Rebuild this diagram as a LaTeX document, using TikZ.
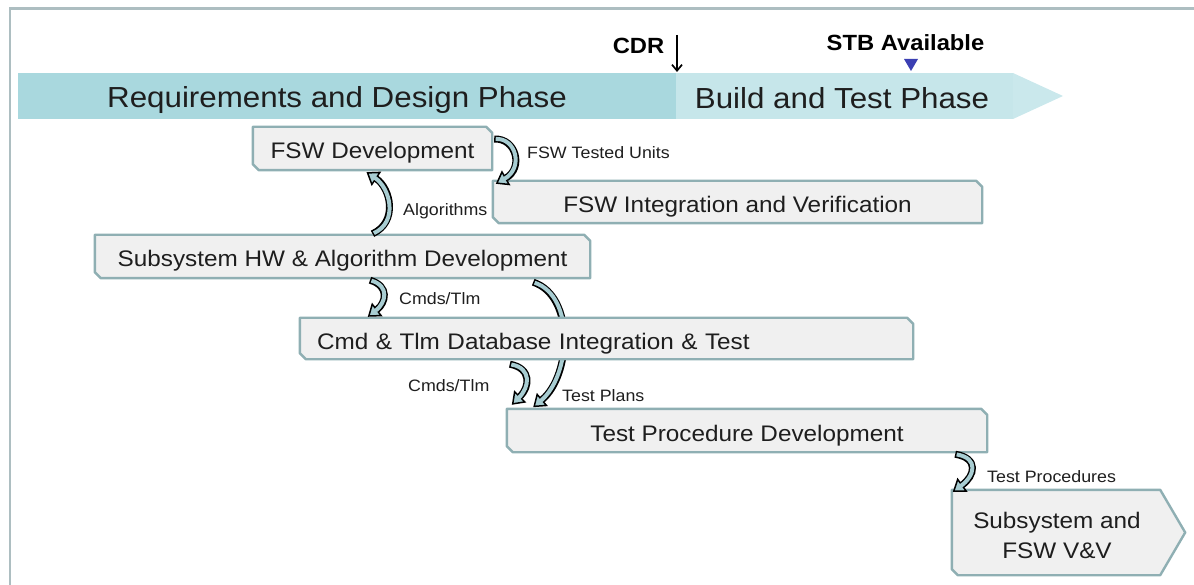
\documentclass[tikz,border=0pt]{standalone}
\usepackage{fontspec}
\setmainfont[FakeStretch=1.08]{Liberation Sans}
\usetikzlibrary{arrows.meta,calc}

\definecolor{framecol}{HTML}{ADBEC1}
\definecolor{phasedark}{HTML}{A9D8DE}
\definecolor{phaselight}{HTML}{C6E6EA}
\definecolor{boxfill}{HTML}{F0F0F0}
\definecolor{boxline}{HTML}{8FAFB3}
\definecolor{arrowfill}{HTML}{A8CDD2}
\definecolor{stbblue}{HTML}{3B3FB3}
\definecolor{ink}{HTML}{1E1E1E}

\pgfdeclarelayer{bg}
\pgfsetlayers{bg,main}

\tikzset{
  phasetext/.style={font=\fontsize{29}{34}\selectfont, text=ink, inner sep=0pt},
  milestone/.style={font=\fontsize{22}{26}\selectfont\bfseries, text=black, inner sep=0pt},
  taskbox/.style={font=\fontsize{22.5}{27}\selectfont, text=ink, inner sep=0pt,
    text height=21pt, text depth=0pt},
  flowlabel/.style={font=\fontsize{16.5}{20}\selectfont, text=ink, inner sep=0pt, anchor=west},
  boxoutline/.style={draw=boxline, fill=boxfill, line width=2.4pt, line join=round},
  bandouter/.style={draw=black, line width=7pt,
    -{Triangle[length=12pt,width=17pt,fill=arrowfill,line width=1.5pt]}},
  bandinner/.style={draw=arrowfill, line width=4pt, shorten >=10pt, shorten <=1.5pt}
}

% outline of a task box: top-right and bottom-left corners cut off
\newcommand\chambox[2]{%
  \begin{pgfonlayer}{bg}
    \draw[boxoutline] ([xshift=-#2]#1.north east) -- ([yshift=-#2]#1.north east)
      -- (#1.south east) -- ([xshift=#2]#1.south west) -- ([yshift=#2]#1.south west)
      -- (#1.north west) -- cycle;
  \end{pgfonlayer}}

% curved block arrow: black rim with a light fill
\newcommand\bandarrow[1]{%
  \draw[bandouter] #1;
  \draw[bandinner] #1;}

\begin{document}
\begin{tikzpicture}[x=1pt,y=-1pt]
\useasboundingbox (0,0) rectangle (1194,585);

% frame
\draw[framecol, line width=2.5pt] (10,590) -- (10,8.5) -- (1200,8.5);

% phase banner
\fill[phasedark] (18,73) rectangle (676,119);
\fill[phaselight] (676,73) rectangle (1013,119);
\fill[phaselight!92!white] (1013,73) -- (1063,96) -- (1013,119) -- cycle;
\node[phasetext] (reqphase) at (337,100) {Requirements and Design Phase};
\node[phasetext] (buildphase) at (842,98.5) {Build and Test Phase};

% milestones
\node[milestone] (cdr) at (638.5,45.5) {CDR};
\coordinate (cdrtop) at (677,35);
\coordinate (cdrbot) at (677,72);
\draw[line width=1.7pt, -{Straight Barb[length=6pt,width=10pt,line width=1.7pt]}] (cdrtop) -- (cdrbot);
\node[milestone] (stb) at (905.5,43) {STB Available};
\fill[stbblue] (904,59) -- (918,59) -- (911,71) -- cycle;

% task boxes
\node[taskbox, minimum width=239pt, minimum height=43pt] (fswdev) at (372.5,148.5) {FSW Development};
\chambox{fswdev}{6pt}
\node[taskbox, minimum width=489pt, minimum height=42pt] (fswint) at (737.5,202) {FSW Integration and Verification};
\chambox{fswint}{6pt}
\node[taskbox, minimum width=495pt, minimum height=43pt] (subhw) at (342.5,256.5) {Subsystem HW \& Algorithm Development};
\chambox{subhw}{6pt}

% test plans run behind the database box
\begin{pgfonlayer}{bg}
\bandarrow{($(subhw.south east)+(-57,4)$) .. controls +(42,14) and +(38,-32) .. ($(subhw.south east)+(-57,129)$)}
\end{pgfonlayer}

\node[taskbox, align=left, text width=579pt, inner xsep=17pt, minimum height=41pt] (cmdtlm) at (606.5,338.5) {Cmd \& Tlm Database Integration \& Test};
\chambox{cmdtlm}{6pt}
\node[taskbox, minimum width=480pt, minimum height=43pt] (testproc) at (747,430.5) {Test Procedure Development};
\chambox{testproc}{6pt}
\node[minimum width=208pt, minimum height=85pt, inner sep=0pt] (vv) at (1056,532.5) {};
\node[font=\fontsize{22.5}{30}\selectfont, text=ink, align=center, inner sep=0pt] (vvtext) at ($(vv.center)+(1,3)$) {Subsystem and\\FSW V\&V};
\begin{pgfonlayer}{bg}
\draw[boxoutline] (vv.north west) -- (vv.north east) -- ($(vv.east)+(25,0)$) -- (vv.south east)
  -- ([xshift=6pt]vv.south west) -- ([yshift=6pt]vv.south west) -- cycle;
\end{pgfonlayer}

% hand-offs between tasks
\bandarrow{($(fswdev.east)+(2,-9.5)$) .. controls +(22,-1) and +(28,-16) .. ($(fswint.north west)+(3,3)$)}
\bandarrow{($(subhw.north)+(30,-1)$) .. controls +(26,-12) and +(24,16) .. ($(fswdev.south)+(-6,2)$)}
\bandarrow{($(subhw.south)+(27.5,2)$) .. controls +(20,6) and +(18,-14) .. ($(cmdtlm.north west)+(68,-1)$)}
\bandarrow{($(cmdtlm.south west)+(210,5)$) .. controls +(22,4) and +(18,-18) .. ($(testproc.north west)+(5,-4)$)}
\bandarrow{($(testproc.south east)+(-32,2)$) .. controls +(24,4) and +(22,-16) .. ($(vv.north west)+(1,2)$)}

% labels
\node[flowlabel] (lbltested) at (527,152.5) {FSW Tested Units};
\node[flowlabel] (lblalgo) at (403,211.5) {Algorithms};
\node[flowlabel] (lblcmd1) at (399,298.5) {Cmds/Tlm};
\node[flowlabel] (lblcmd2) at (408,385.5) {Cmds/Tlm};
\node[flowlabel] (lblplans) at (562,395.5) {Test Plans};
\node[flowlabel] (lblproc) at (987,476.5) {Test Procedures};
\end{tikzpicture}
\end{document}
